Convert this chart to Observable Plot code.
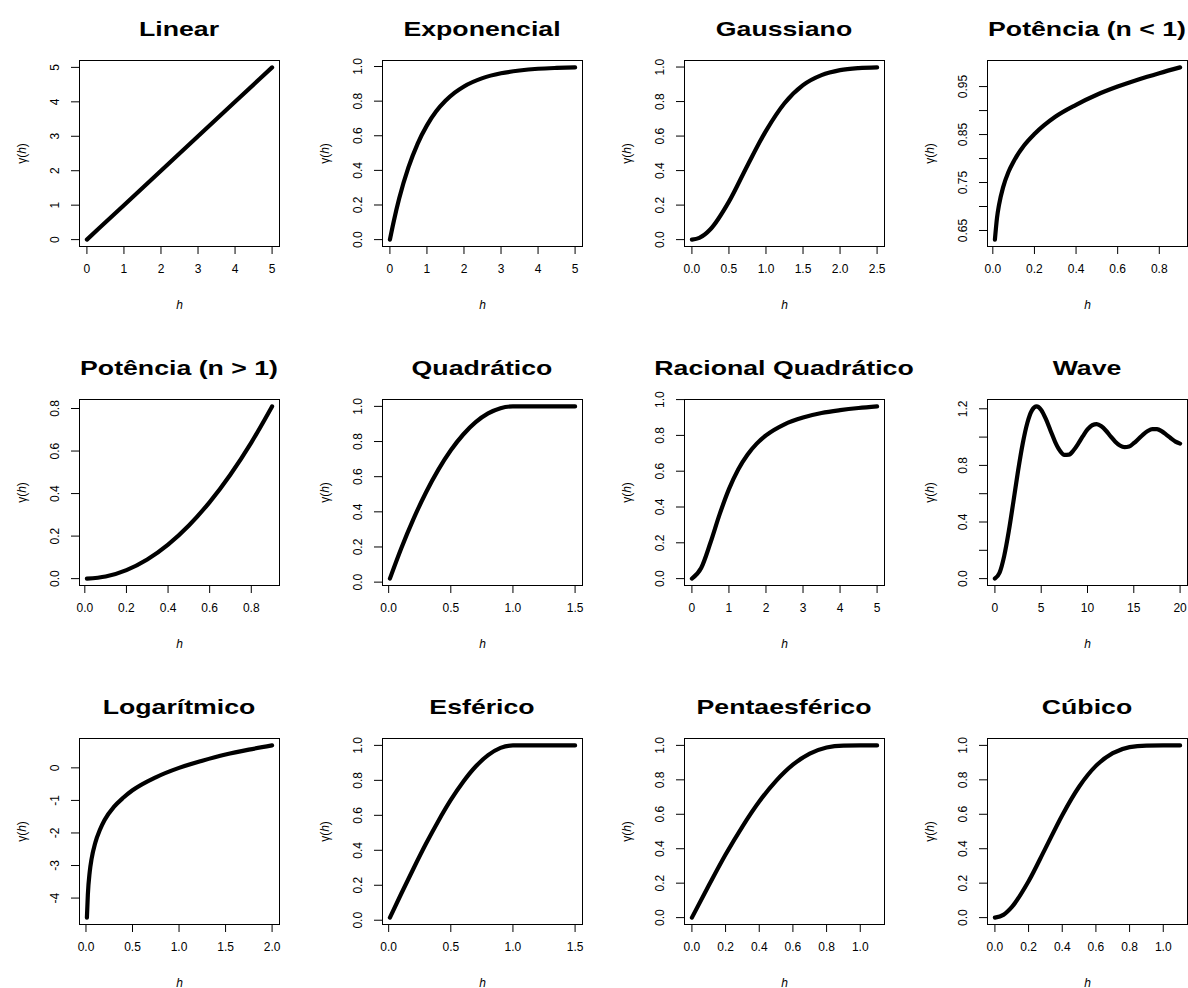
<!DOCTYPE html>
<html><head><meta charset="utf-8">
<script src="https://cdn.jsdelivr.net/npm/d3@7"></script>
<script src="https://cdn.jsdelivr.net/npm/@observablehq/plot@0.6"></script>
<style>
html,body{margin:0;padding:0;background:#fff;}
#chart{position:relative;width:1188px;height:988px;overflow:hidden;background:#fff;}
.panel{position:absolute;}
.ptitle{position:absolute;width:320px;text-align:center;font-family:"Liberation Sans",Arial,sans-serif;font-weight:bold;font-size:21px;line-height:21px;white-space:nowrap;transform:scaleX(1.27);transform-origin:50% 50%;color:#000;}
</style></head><body><div id="chart"></div>
<script>
// ---- titles ----
const titles = ["Linear","Exponencial","Gaussiano","Potência (n < 1)",
  "Potência (n > 1)","Quadrático","Racional Quadrático","Wave",
  "Logarítmico","Esférico","Pentaesférico","Cúbico"];

// ---- series (h, gamma(h)) ----
const linH = [0,1,2,3,4,5];
const linG = [0,1,2,3,4,5];
const expH = [0,0.1,0.25,0.5,0.75,1,1.25,1.5,1.75,2,2.5,3,3.5,4,4.5,5];
const expG = [0,0.102,0.237,0.417,0.555,0.660,0.741,0.802,0.849,0.885,0.933,0.961,0.977,0.987,0.992,0.995];
const gauH = [0,0.1,0.25,0.5,0.75,1,1.25,1.5,1.75,2,2.25,2.5];
const gauG = [0,0.01,0.06,0.22,0.43,0.63,0.79,0.895,0.953,0.982,0.994,0.998];
const pw1H = [0.01,0.02,0.03,0.05,0.075,0.1,0.15,0.2,0.3,0.4,0.5,0.6,0.7,0.8,0.9];
const pw1G = [0.631,0.676,0.704,0.741,0.772,0.794,0.827,0.851,0.887,0.912,0.933,0.950,0.965,0.978,0.990];
const pw2H = [0.01,0.1,0.2,0.3,0.4,0.5,0.6,0.7,0.8,0.9];
const pw2G = [0.0001,0.01,0.04,0.09,0.16,0.25,0.36,0.49,0.64,0.81];
const quaH = [0.01,0.1,0.2,0.3,0.4,0.5,0.6,0.7,0.8,0.9,1.0,1.25,1.5];
const quaG = [0.02,0.19,0.36,0.51,0.64,0.75,0.84,0.91,0.96,0.99,1.0,1.0,1.0];
const racH = [0,0.25,0.5,0.75,1,1.25,1.5,1.75,2,2.5,3,3.5,4,4.5,5];
const racG = [0,0.059,0.2,0.36,0.5,0.61,0.692,0.754,0.8,0.862,0.9,0.925,0.941,0.953,0.962];
const wavH = [0,0.5,1,1.5,2,2.5,3,3.5,4,4.5,5,5.5,6,6.5,7,7.5,8,8.5,9,9.5,10,10.5,11,11.5,12,12.5,13,13.5,14,14.5,15,15.5,16,16.5,17,17.5,18,18.5,19,19.5,20];
const wavG = [0,0.041,0.159,0.335,0.545,0.761,0.953,1.100,1.189,1.217,1.192,1.128,1.047,0.967,0.906,0.874,0.876,0.907,0.954,1.007,1.054,1.084,1.091,1.076,1.045,1.005,0.968,0.941,0.929,0.934,0.957,0.987,1.018,1.043,1.057,1.056,1.042,1.018,0.992,0.968,0.954];
const logH = [0.01,0.02,0.04,0.06,0.1,0.15,0.2,0.3,0.4,0.5,0.75,1,1.25,1.5,1.75,2];
const logG = [-4.6,-3.9,-3.2,-2.8,-2.3,-1.9,-1.6,-1.2,-0.92,-0.69,-0.29,0,0.22,0.41,0.56,0.69];
const esfH = [0.01,0.1,0.2,0.3,0.4,0.5,0.6,0.7,0.8,0.9,1.0,1.25,1.5];
const esfG = [0.015,0.15,0.296,0.437,0.568,0.688,0.792,0.879,0.944,0.986,1.0,1.0,1.0];
const penH = [0,0.1,0.2,0.3,0.4,0.5,0.6,0.7,0.8,0.9,1.0,1.1];
const penG = [0,0.186,0.366,0.529,0.674,0.794,0.888,0.952,0.988,0.999,1.0,1.0];
const cubH = [0,0.05,0.1,0.2,0.3,0.4,0.5,0.6,0.7,0.8,0.9,1.0,1.1];
const cubG = [0,0.016,0.061,0.211,0.402,0.595,0.760,0.881,0.955,0.990,0.999,1.0,1.0];

// ---- tick values and tick labels ----
const t0to5 = [0,1,2,3,4,5];
const l0to5 = ["0","1","2","3","4","5"];
const t01 = [0,0.2,0.4,0.6,0.8,1.0];
const l01 = ["0.0","0.2","0.4","0.6","0.8","1.0"];
const tGauX = [0,0.5,1,1.5,2,2.5];
const lGauX = ["0.0","0.5","1.0","1.5","2.0","2.5"];
const t08 = [0,0.2,0.4,0.6,0.8];
const l08 = ["0.0","0.2","0.4","0.6","0.8"];
const tPw1Y = [0.65,0.70,0.75,0.80,0.85,0.90,0.95];
const lPw1Y = ["0.65","","0.75","","0.85","","0.95"];
const t15 = [0,0.5,1,1.5];
const l15 = ["0.0","0.5","1.0","1.5"];
const tWavX = [0,5,10,15,20];
const lWavX = ["0","5","10","15","20"];
const tWavY = [0,0.2,0.4,0.6,0.8,1.0,1.2];
const lWavY = ["0.0","","0.4","","0.8","","1.2"];
const tLogX = [0,0.5,1,1.5,2];
const lLogX = ["0.0","0.5","1.0","1.5","2.0"];
const tLogY = [-4,-3,-2,-1,0];
const lLogY = ["-4","-3","-2","-1","0"];

const panels = [
  {h:linH,g:linG,xt:t0to5,xl:l0to5,yt:t0to5,yl:l0to5},
  {h:expH,g:expG,xt:t0to5,xl:l0to5,yt:t01,yl:l01},
  {h:gauH,g:gauG,xt:tGauX,xl:lGauX,yt:t01,yl:l01},
  {h:pw1H,g:pw1G,xt:t08,xl:l08,yt:tPw1Y,yl:lPw1Y},
  {h:pw2H,g:pw2G,xt:t08,xl:l08,yt:t08,yl:l08},
  {h:quaH,g:quaG,xt:t15,xl:l15,yt:t01,yl:l01},
  {h:racH,g:racG,xt:t0to5,xl:l0to5,yt:t01,yl:l01},
  {h:wavH,g:wavG,xt:tWavX,xl:lWavX,yt:tWavY,yl:lWavY},
  {h:logH,g:logG,xt:tLogX,xl:lLogX,yt:tLogY,yl:lLogY},
  {h:esfH,g:esfG,xt:t15,xl:l15,yt:t01,yl:l01},
  {h:penH,g:penG,xt:t01,xl:l01,yt:t01,yl:l01},
  {h:cubH,g:cubG,xt:t01,xl:l01,yt:t01,yl:l01}
];

// ---- layout ----
const W = 200, H = 186;
const mL = 80, mR = 12, mT = 10, mB = 70;
const FONT = '"Liberation Sans", Arial, Helvetica, sans-serif';
const chart = document.getElementById("chart");
const pad = ([a,b]) => { const d = (b - a) * 0.04; return [a - d, b + d]; };

panels.forEach((p, i) => {
  const r = Math.floor(i / 4), c = i % 4;
  const boxLeft = Math.round(79 + c * 302.6);
  const boxTop = 60 + r * 339;
  const data = p.h.map((h, k) => ({h, g: p.g[k]}));
  const xMap = new Map(p.xt.map((t, k) => [t, p.xl[k]]));
  const yMap = new Map(p.yt.map((t, k) => [t, p.yl[k]]));
  const svg = Plot.plot({
    width: mL + W + mR, height: mT + H + mB,
    marginLeft: mL, marginRight: mR, marginTop: mT, marginBottom: mB,
    style: {fontFamily: FONT, fontSize: "12px", background: "transparent", color: "#000", overflow: "visible"},
    x: {domain: pad(d3.extent(p.h))},
    y: {domain: pad(d3.extent(p.g))},
    marks: [
      Plot.axisX({ticks: p.xt, tickFormat: d => xMap.get(d), tickSize: 8, tickPadding: 10,
        label: "h", labelAnchor: "center", labelOffset: 62, labelArrow: false, fontSize: 12}),
      Plot.axisY({ticks: p.yt, tickFormat: d => yMap.get(d), tickSize: 8, tickPadding: 13, tickRotate: -90,
        label: "γ(h)", labelAnchor: "center", labelOffset: 62, labelArrow: false, fontSize: 12}),
      Plot.frame({stroke: "#000", strokeWidth: 1}),
      Plot.line(data, {x: "h", y: "g", stroke: "#000", strokeWidth: 4.2, curve: "monotone-x",
        strokeLinecap: "round", strokeLinejoin: "round"})
    ]
  });
  svg.classList.add("panel");
  svg.style.left = (boxLeft - mL) + "px";
  svg.style.top = (boxTop - mT) + "px";
  // italic h in axis labels
  const xl = svg.querySelector('g[aria-label="x-axis label"] text');
  if (xl) xl.style.fontStyle = "italic";
  const yl = svg.querySelector('g[aria-label="y-axis label"] text');
  if (yl) {
    yl.textContent = "";
    const ns = "http://www.w3.org/2000/svg";
    const a = document.createElementNS(ns, "tspan"); a.textContent = "γ(";
    const b = document.createElementNS(ns, "tspan"); b.textContent = "h"; b.setAttribute("font-style", "italic");
    const e = document.createElementNS(ns, "tspan"); e.textContent = ")";
    yl.append(a, b, e);
  }
  chart.appendChild(svg);

  const t = document.createElement("div");
  t.className = "ptitle";
  t.textContent = titles[i];
  t.style.left = (boxLeft + W / 2 - 160) + "px";
  t.style.top = (boxTop - 42) + "px";
  chart.appendChild(t);
});
</script>
</body></html>
